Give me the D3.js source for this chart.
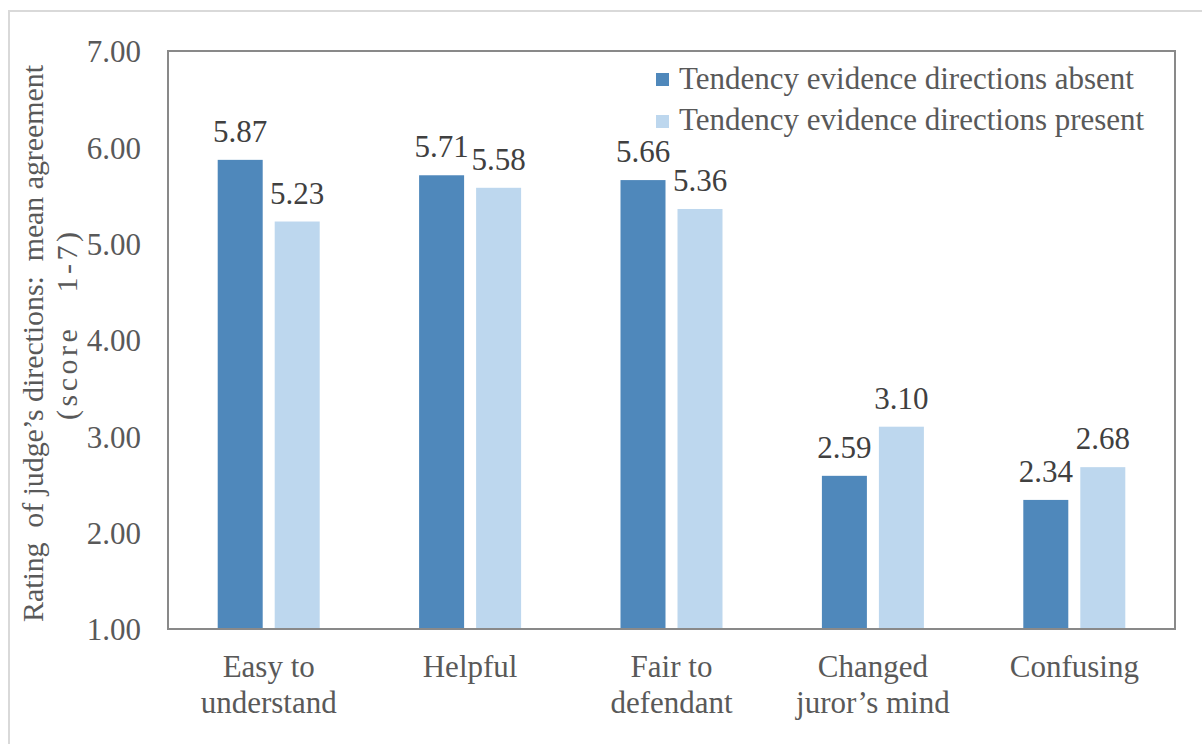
<!DOCTYPE html>
<html><head><meta charset="utf-8">
<script src="https://cdn.jsdelivr.net/npm/d3@7"></script>
</head><body style="margin:0;background:#fff">
<script>
const categories = [["Easy to","understand"],["Helpful"],["Fair to","defendant"],["Changed","juror’s mind"],["Confusing"]];
const seriesNames = ["Tendency evidence directions absent","Tendency evidence directions present"];
const absentValues = [5.87,5.71,5.66,2.59,2.34];
const presentValues = [5.23,5.58,5.36,3.10,2.68];
const yTicks = [1,2,3,4,5,6,7];
const axisTitle = ["Rating  of judge’s directions:  mean agreement","(score   1-7)"];
const colors = ["#4f88bb","#bdd7ee"];

const W=1202,H=744;
const svg=d3.select("body").append("svg").attr("width",W).attr("height",H).style("display","block");
const FF='"Liberation Serif"';
const fs=31;
const txt="#595959";
svg.append("rect").attr("x",9).attr("y",11).attr("width",1300).attr("height",800).attr("fill","none").attr("stroke","#d9d9d9").attr("stroke-width",2);

const L=168,R=1175,T=51,B=629;
const x=d3.scaleBand().domain(d3.range(categories.length)).range([L,R]);
const y=d3.scaleLinear().domain([1,7]).range([B,T]);
const barW=45, gap=12;

const series=[absentValues,presentValues];
series.forEach((vals,si)=>{
  const g=svg.append("g");
  g.selectAll("rect").data(vals).join("rect")
    .attr("x",(d,i)=>x(i)+x.bandwidth()/2+(si===0?-gap/2-barW:gap/2))
    .attr("y",d=>y(d)).attr("width",barW).attr("height",d=>y(1)-y(d))
    .attr("fill",colors[si]);
  g.selectAll("text").data(vals).join("text")
    .attr("x",(d,i)=>x(i)+x.bandwidth()/2+(si===0?-gap/2-barW/2:gap/2+barW/2))
    .attr("y",d=>y(d)-18).attr("text-anchor","middle")
    .style("font-family",FF).attr("font-size",fs).attr("fill","#404040")
    .text(d=>d.toFixed(2));
});

svg.append("rect").attr("x",L).attr("y",T).attr("width",R-L).attr("height",B-T)
  .attr("fill","none").attr("stroke","#898989").attr("stroke-width",2);

const ya=svg.append("g").attr("transform",`translate(${L},0)`)
  .call(d3.axisLeft(y).tickValues(yTicks).tickFormat(d3.format(".2f")).tickSize(0).tickPadding(27));
ya.select(".domain").remove();
ya.selectAll("text").style("font-family",FF).attr("font-size",fs).attr("fill",txt).attr("dy","0.35em");

const xa=svg.append("g");
categories.forEach((lines,i)=>{
  const cx=x(i)+x.bandwidth()/2;
  const t=xa.append("text").attr("x",cx).attr("y",677).attr("text-anchor","middle")
   .style("font-family",FF).attr("font-size",fs).attr("fill",txt);
  lines.forEach((l,j)=>t.append("tspan").attr("x",cx).attr("dy",j?36:0).style("white-space","pre").text(l));
});

svg.append("text").attr("transform","translate(43,343.5) rotate(-90)").attr("text-anchor","middle")
  .style("font-family",FF).attr("font-size",30).attr("fill",txt).style("white-space","pre")
  .attr("textLength",557).attr("lengthAdjust","spacing").text(axisTitle[0]);
svg.append("text").attr("transform","translate(77,326) rotate(-90)").attr("text-anchor","middle")
  .style("font-family",FF).attr("font-size",30).attr("fill",txt).style("white-space","pre")
  .attr("textLength",188).attr("lengthAdjust","spacing").text(axisTitle[1]);

const lg=svg.append("g");
seriesNames.forEach((n,i)=>{
  lg.append("rect").attr("x",656).attr("y",73+i*42).attr("width",13).attr("height",13).attr("fill",colors[i]);
  lg.append("text").attr("x",679).attr("y",89+i*41).style("font-family",FF).attr("font-size",fs).attr("fill",txt).text(n);
});
</script>
</body></html>
